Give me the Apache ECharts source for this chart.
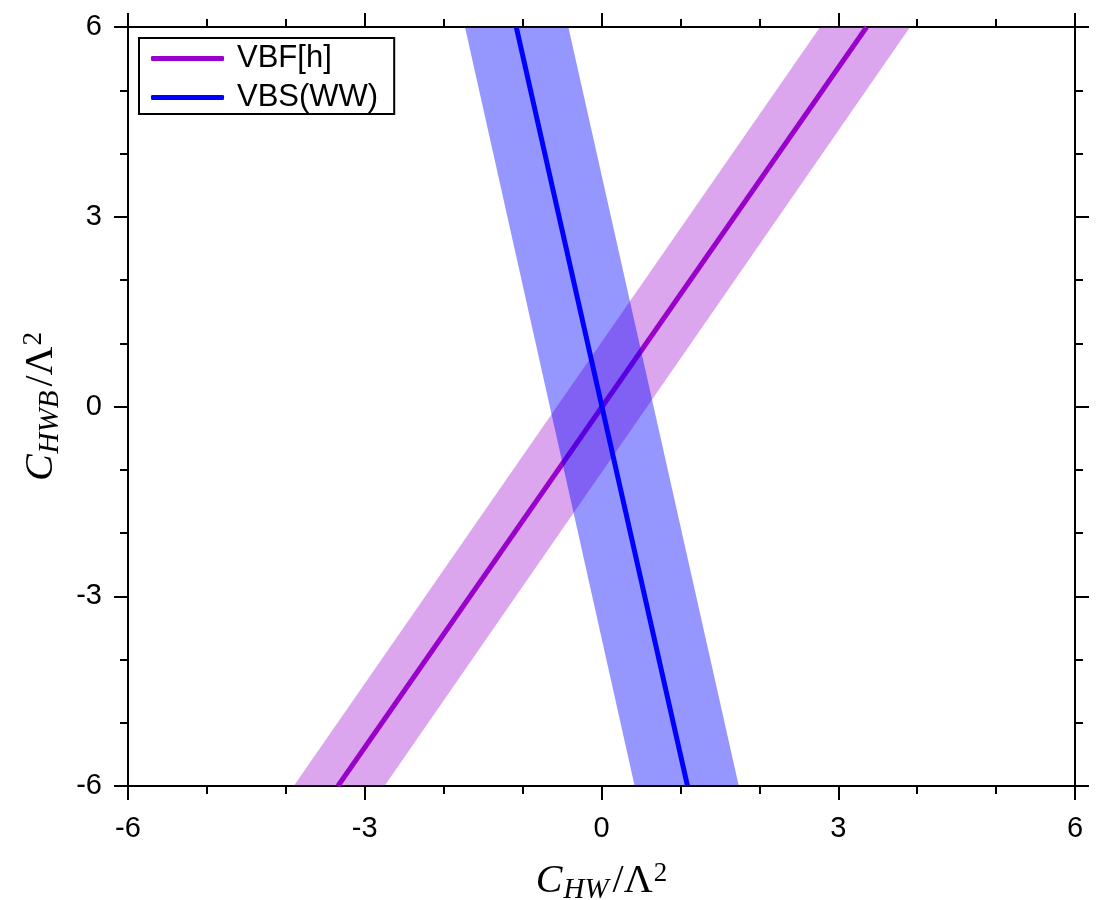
<!DOCTYPE html>
<html>
<head>
<meta charset="utf-8">
<script src="https://cdn.jsdelivr.net/npm/echarts@6/dist/echarts.min.js"></script>
<style>
  html, body { margin: 0; padding: 0; background: #fff; }
  #chart { width: 1099px; height: 900px; }
</style>
</head>
<body>
<div id="chart"></div>
<script>
// axis ticks
const xTicks = [-6, -3, 0, 3, 6];
const yTicks = [-6, -3, 0, 3, 6];

// central lines [C_HW, C_HWB]
const vbfLine = [[-3.34, -6], [3.36, 6]];
const vbsLine = [[1.09, -6], [-1.08, 6]];

// bands, polygon corners [C_HW, C_HWB]
const vbfBand = [[-3.90, -6], [-2.75, -6], [3.91, 6], [2.77, 6]];
const vbsBand = [[0.42, -6], [1.74, -6], [-0.42, 6], [-1.73, 6]];

const font = 'Liberation Sans';
const mathFont = 'Liberation Serif';

function bandSeries(name, pts, color, z) {
  return {
    name: name,
    type: 'custom',
    z: z,
    silent: true,
    data: [0],
    renderItem: function (params, api) {
      return {
        type: 'polygon',
        shape: { points: pts.map(p => api.coord(p)) },
        style: { fill: color }
      };
    }
  };
}

const mathRich = {
  c: { fontFamily: mathFont, fontStyle: 'italic', fontSize: 40, color: '#000' },
  s: { fontFamily: mathFont, fontStyle: 'italic', fontSize: 29, color: '#000', padding: [18, 4, 0, 1] },
  n: { fontFamily: mathFont, fontSize: 40, color: '#000' },
  p: { fontFamily: mathFont, fontSize: 27, color: '#000', padding: [0, 0, 16, 1] }
};

function axisBase(extra) {
  return Object.assign({
    type: 'value',
    min: -6,
    max: 6,
    interval: 3,
    axisLine: { onZero: false, lineStyle: { color: '#000', width: 2 } },
    axisTick: { show: true, inside: false, length: 14, lineStyle: { color: '#000', width: 2 } },
    minorTick: { show: true, splitNumber: 3, length: 8, lineStyle: { color: '#000', width: 2 } },
    splitLine: { show: false },
    minorSplitLine: { show: false }
  }, extra);
}

const chart = echarts.init(document.getElementById('chart'));
chart.setOption({
  backgroundColor: '#fff',
  animation: false,
  grid: { left: 128, right: 24, top: 27, bottom: 114, outerBoundsMode: 'none' },
  legend: {
    data: ['VBF[h]', 'VBS(WW)'],
    orient: 'vertical',
    left: 139,
    top: 38,
    icon: 'roundRect',
    padding: [5, 16, 1, 12],
    borderColor: '#000',
    borderWidth: 2,
    borderRadius: 0,
    itemWidth: 73,
    itemHeight: 5,
    itemGap: 8,
    textStyle: { fontFamily: font, fontSize: 31, color: '#000', padding: [0, 0, 0, 8] }
  },
  xAxis: [
    axisBase({
      position: 'bottom',
      axisLabel: {
        fontFamily: font, fontSize: 29, color: '#000', margin: 28,
        formatter: v => xTicks.includes(v) ? String(v) : ''
      },
      name: '{c|C}{s|HW}{n|/Λ}{p|2}',
      nameLocation: 'middle',
      nameGap: 72,
      nameTextStyle: { rich: mathRich }
    }),
    axisBase({ position: 'top', axisLabel: { show: false } })
  ],
  yAxis: [
    axisBase({
      position: 'left',
      axisLabel: {
        fontFamily: font, fontSize: 29, color: '#000', margin: 26,
        formatter: v => yTicks.includes(v) ? String(v) : ''
      },
      name: '{c|C}{s|HWB}{n|/Λ}{p|2}',
      nameLocation: 'middle',
      nameGap: 56,
      nameTextStyle: { rich: mathRich }
    }),
    axisBase({ position: 'right', axisLabel: { show: false } })
  ],
  series: [
    bandSeries('VBF band', vbfBand, 'rgba(153, 0, 204, 0.35)', 1),
    {
      name: 'VBF[h]',
      type: 'line',
      z: 2,
      data: vbfLine,
      symbol: 'none',
      color: '#9900cc',
      lineStyle: { color: '#9900cc', width: 5 }
    },
    bandSeries('VBS band', vbsBand, 'rgba(0, 0, 255, 0.41)', 3),
    {
      name: 'VBS(WW)',
      type: 'line',
      z: 4,
      data: vbsLine,
      symbol: 'none',
      color: '#0000ff',
      lineStyle: { color: '#0000ff', width: 5 }
    }
  ]
});
</script>
</body>
</html>
